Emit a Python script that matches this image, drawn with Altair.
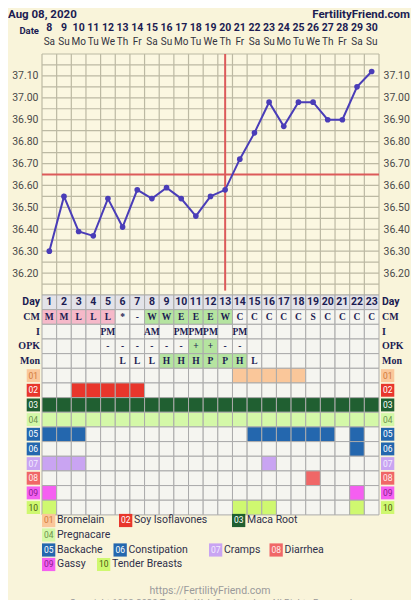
import altair as alt
import pandas as pd

# ---------------- data ----------------
days = list(range(1, 24))
dates = list(range(8, 31))
weekdays = ["Sa", "Su", "Mo", "Tu", "We", "Th", "Fr"] * 3 + ["Sa", "Su"]
temps = [36.30, 36.55, 36.39, 36.37, 36.54, 36.41, 36.58, 36.54, 36.59, 36.54,
         36.46, 36.55, 36.58, 36.72, 36.84, 36.98, 36.87, 36.98, 36.98, 36.90,
         36.90, 37.05, 37.12]
coverline = 36.65
ovulation_day = 13
axis_temps = [36.2, 36.3, 36.4, 36.5, 36.6, 36.7, 36.8, 36.9, 37.0, 37.1]

cm = ["M", "M", "L", "L", "L", "*", "-", "W", "W", "E", "E", "E", "W",
      "C", "C", "C", "C", "C", "S", "C", "C", "C", "C"]
intercourse = ["", "", "", "", "PM", "", "", "AM", "", "PM", "PM", "PM", "",
               "PM", "", "", "", "", "", "", "", "", ""]
opk = ["", "", "", "", "-", "-", "-", "-", "-", "-", "+", "+", "-", "-",
       "", "", "", "", "", "", "", "", ""]
monitor = ["", "", "", "", "", "L", "L", "L", "H", "H", "H", "P", "P", "H", "L",
           "", "", "", "", "", "", "", ""]

codes = ["01", "02", "03", "04", "05", "06", "07", "08", "09", "10"]
names = ["Bromelain", "Soy Isoflavones", "Maca Root", "Pregnacare", "Backache",
         "Constipation", "Cramps", "Diarrhea", "Gassy", "Tender Breasts"]
code_bg = ["#FAC79A", "#E8362C", "#205F31", "#D4F8A8", "#2467AE",
           "#2467AE", "#C9A4F2", "#F06767", "#F55FF1", "#CFF870"]
code_fg = ["#D27B3C", "#FFFFFF", "#FFFFFF", "#6F9150", "#FFFFFF",
           "#FFFFFF", "#F3ECFF", "#FFECEC", "#8A2090", "#4A5A12"]
code_days = [
    [14, 15, 16, 17, 18],
    [3, 4, 5, 6, 7],
    list(range(1, 24)),
    list(range(1, 24)),
    [1, 2, 3, 15, 16, 17, 18, 19, 20, 22],
    [22],
    [1, 2, 3, 16],
    [19],
    [1, 22],
    [1, 14, 15, 16, 22],
]
row_names = ["Day", "CM", "I", "OPK", "Mon"]

# ---------------- layout / style ----------------
W = 337
TEMP_H = 241
ROWH = 14.66
NROWS = 15
H = TEMP_H + NROWS * ROWH
COLW = W / 23

BG = "#F9F4DA"
PLOTBG = "#FBF7E1"
GRID = "#BCB9A3"
NAVY = "#1C1C52"
RED = "#DC5A5A"
BLUE = "#4A3DB8"
CELL = "#F5F5F0"
CELLLINE = "#ABABAB"
DAYROW = "#E3E3E9"
PINK = "#F6B9C9"
GREEN = "#B5E4A0"
SANS = "Roboto"
SERIF = "Liberation Serif"


def px2x(px):
    return 0.5 + px / COLW


def px2r(py):
    return (py - TEMP_H) / ROWH


xs = alt.Scale(domain=[0.5, 23.5], nice=False, zero=False)
ts = alt.Scale(domain=[36.1, 37.2], range=[TEMP_H, 0], nice=False, zero=False)
rs = alt.Scale(domain=[0, NROWS], range=[TEMP_H, H], nice=False, zero=False)

X = lambda f: alt.X(f, scale=xs, axis=None, title=None)
YT = lambda f: alt.Y(f, scale=ts, axis=None, title=None)
YR = lambda f: alt.Y(f, scale=rs, axis=None, title=None)

layers = []

# temperature grid
vgrid = pd.DataFrame({"x": [k + 0.5 for k in range(24)], "y": 36.1, "y2": 37.2})
layers.append(alt.Chart(vgrid).mark_rule(color=GRID, strokeWidth=1.2)
              .encode(x=X("x:Q"), y=YT("y:Q"), y2="y2:Q"))
hvals = [round(36.1 + 0.05 * k, 2) for k in range(23)]
hgrid = pd.DataFrame({"y": hvals, "x": 0.5, "x2": 23.5})
layers.append(alt.Chart(hgrid).mark_rule(color=GRID, strokeWidth=1.2)
              .encode(y=YT("y:Q"), x=X("x:Q"), x2="x2:Q"))

# coverline and ovulation line
cov = pd.DataFrame({"y": [coverline], "x": [0.5], "x2": [23.5]})
layers.append(alt.Chart(cov).mark_rule(color=RED, strokeWidth=2)
              .encode(y=YT("y:Q"), x=X("x:Q"), x2="x2:Q"))
ov = pd.DataFrame({"x": [ovulation_day], "y": [36.12], "y2": [37.2]})
layers.append(alt.Chart(ov).mark_rule(color=RED, strokeWidth=2)
              .encode(x=X("x:Q"), y=YT("y:Q"), y2="y2:Q"))

tdf = pd.DataFrame({"day": days, "temp": temps})
ax_common = dict(values=axis_temps, format=".2f", domain=False, ticks=False,
                 grid=False, labelFont=SANS, labelFontSize=10.5,
                 labelColor="#4A4A4A", labelPadding=4, title=None)
layers.append(alt.Chart(tdf).mark_line(color=BLUE, strokeWidth=2)
              .encode(x=X("day:Q"),
                      y=alt.Y("temp:Q", scale=ts, axis=alt.Axis(orient="left", **ax_common))))
layers.append(alt.Chart(tdf).mark_circle(color=BLUE, opacity=1, size=32)
              .encode(x=X("day:Q"),
                      y=alt.Y("temp:Q", scale=ts, axis=alt.Axis(orient="right", **ax_common))))

# ---------------- table ----------------
recs = []
for i, d in enumerate(days):
    recs.append(dict(day=d, row=0, fill=DAYROW, txt=str(d), kind="day"))
    c = cm[i]
    recs.append(dict(day=d, row=1, fill=PINK if c in ("M", "L") else
                     (GREEN if c in ("W", "E") else CELL), txt=c, kind="s"))
    recs.append(dict(day=d, row=2, fill=CELL, txt=intercourse[i], kind="s"))
    recs.append(dict(day=d, row=3, fill=GREEN if opk[i] == "+" else CELL, txt=opk[i], kind="s"))
    recs.append(dict(day=d, row=4, fill=GREEN if monitor[i] in ("H", "P") else CELL,
                     txt=monitor[i], kind="s"))
    for k, cd in enumerate(codes):
        recs.append(dict(day=d, row=5 + k, fill=code_bg[k] if d in code_days[k] else CELL,
                         txt="", kind="s"))
tab = pd.DataFrame(recs)
tab["x"] = tab["day"] - 0.5
tab["x2"] = tab["day"] + 0.5
tab["r2"] = tab["row"] + 1
tab["rc"] = tab["row"] + 0.5

layers.append(alt.Chart(tab).mark_rect(stroke=CELLLINE, strokeWidth=1)
              .encode(x=X("x:Q"), x2="x2:Q", y=YR("row:Q"), y2="r2:Q",
                      fill=alt.Fill("fill:N", scale=None)))
layers.append(alt.Chart(tab[tab.kind == "day"]).mark_text(
    font=SANS, fontWeight="bold", fontSize=10.5, color=NAVY, baseline="middle")
    .encode(x=X("day:Q"), y=YR("rc:Q"), text="txt:N"))
layers.append(alt.Chart(tab[(tab.kind == "s") & (tab.txt != "")]).mark_text(
    font=SERIF, fontWeight="bold", fontSize=9.5, color=NAVY, baseline="middle")
    .encode(x=X("day:Q"), y=YR("rc:Q"), text="txt:N"))

# row labels
rl = pd.DataFrame({"label": row_names * 2, "row": list(range(5)) * 2,
                   "side": ["L"] * 5 + ["R"] * 5})
rl["rc"] = rl["row"] + 0.5
rl["x"] = [px2x(-2)] * 5 + [px2x(3 + W)] * 5
for side, al in (("L", "right"), ("R", "left")):
    sub = rl[rl.side == side]
    layers.append(alt.Chart(sub[sub.label == "Day"]).mark_text(
        font=SANS, fontWeight="bold", fontSize=10.5, color=NAVY, align=al, baseline="middle")
        .encode(x=X("x:Q"), y=YR("rc:Q"), text="label:N"))
    layers.append(alt.Chart(sub[sub.label != "Day"]).mark_text(
        font=SERIF, fontWeight="bold", fontSize=10, color=NAVY, align=al, baseline="middle")
        .encode(x=X("x:Q"), y=YR("rc:Q"), text="label:N"))

# badges on both sides
brecs = []
for k, cd in enumerate(codes):
    for left in (-15.3, W + 2):
        brecs.append(dict(code=cd, bg=code_bg[k], fg=code_fg[k],
                          x=px2x(left), x2=px2x(left + 13.3), xc=px2x(left + 6.65),
                          r=5 + k + 0.06, r2=5 + k + 0.94, rc=5 + k + 0.5))
bdf = pd.DataFrame(brecs)
layers.append(alt.Chart(bdf).mark_rect()
              .encode(x=X("x:Q"), x2="x2:Q", y=YR("r:Q"), y2="r2:Q",
                      fill=alt.Fill("bg:N", scale=None)))
layers.append(alt.Chart(bdf).mark_text(font=SANS, fontSize=8.5, baseline="middle")
              .encode(x=X("xc:Q"), y=YR("rc:Q"), text="code:N",
                      color=alt.Color("fg:N", scale=None)))

# ---------------- header ----------------
hdr = pd.DataFrame({"day": days, "date": [str(d) for d in dates], "wd": weekdays})
layers.append(alt.Chart(hdr).mark_text(font=SANS, fontWeight="bold", fontSize=10.5,
                                       color=NAVY, baseline="middle")
              .encode(x=X("day:Q"), y=alt.value(-26.3), text="date:N"))
layers.append(alt.Chart(hdr).mark_text(font=SANS, fontSize=10, color="#333340",
                                       baseline="middle")
              .encode(x=X("day:Q"), y=alt.value(-12.3), text="wd:N"))
layers.append(alt.Chart(pd.DataFrame({"t": ["Date"]})).mark_text(
    font=SANS, fontWeight="bold", fontSize=9.5, color=NAVY, align="right", baseline="middle")
    .encode(x=alt.value(-3), y=alt.value(-22.5), text="t:N"))
layers.append(alt.Chart(pd.DataFrame({"t": ["Aug 08, 2020"]})).mark_text(
    font=SANS, fontWeight="bold", fontSize=11.5, color=NAVY, align="left", baseline="middle")
    .encode(x=alt.value(-34), y=alt.value(-39.3), text="t:N"))
layers.append(alt.Chart(pd.DataFrame({"t": ["FertilityFriend.com"]})).mark_text(
    font=SANS, fontWeight="bold", fontSize=11.5, color=NAVY, align="right", baseline="middle")
    .encode(x=alt.value(368), y=alt.value(-39.3), text="t:N"))

# ---------------- legend ----------------
leg_px = [0, 77, 190, 0, 0, 71.5, 167, 227.5, 0, 55]
leg_py = [466.5, 466.5, 466.5, 481, 496, 496, 496, 496, 510.5, 510.5]
lrecs = []
for k, cd in enumerate(codes):
    lx, ly = leg_px[k], leg_py[k]
    lrecs.append(dict(code=cd, name=names[k], bg=code_bg[k], fg=code_fg[k],
                      x=px2x(lx), x2=px2x(lx + 13.3), xc=px2x(lx + 6.65),
                      tx=px2x(lx + 15), r=px2r(ly - 6.6), r2=px2r(ly + 6.6),
                      rc=px2r(ly)))
ldf = pd.DataFrame(lrecs)
layers.append(alt.Chart(ldf).mark_rect()
              .encode(x=X("x:Q"), x2="x2:Q", y=YR("r:Q"), y2="r2:Q",
                      fill=alt.Fill("bg:N", scale=None)))
layers.append(alt.Chart(ldf).mark_text(font=SANS, fontSize=8.5, baseline="middle")
              .encode(x=X("xc:Q"), y=YR("rc:Q"), text="code:N",
                      color=alt.Color("fg:N", scale=None)))
layers.append(alt.Chart(ldf).mark_text(font=SANS, fontSize=10.5, color="#30304A",
                                       align="left", baseline="middle")
              .encode(x=X("tx:Q"), y=YR("rc:Q"), text="name:N"))

# ---------------- footer ----------------
layers.append(alt.Chart(pd.DataFrame({"t": ["https://FertilityFriend.com"]})).mark_text(
    font=SANS, fontSize=10.5, color="#9A9A9A", align="center", baseline="middle")
    .encode(x=alt.value(168), y=alt.value(537), text="t:N"))
layers.append(alt.Chart(pd.DataFrame(
    {"t": ["Copyright 1998-2020 Tamtris Web Services Inc. All Rights Reserved."]})).mark_text(
    font=SANS, fontSize=9.5, color="#9A9A9A", align="center", baseline="middle")
    .encode(x=alt.value(170), y=alt.value(549), text="t:N"))

chart = (alt.layer(*layers)
         .resolve_scale(y="independent")
         .properties(width=W, height=H,
                     padding={"left": 34, "top": 46, "right": 32, "bottom": 89},
                     autosize=alt.AutoSizeParams(type="none"),
                     background=BG)
         .configure_view(stroke=None, fill=PLOTBG))

chart.save("out.html", embed_options={"renderer": "svg", "actions": False})
